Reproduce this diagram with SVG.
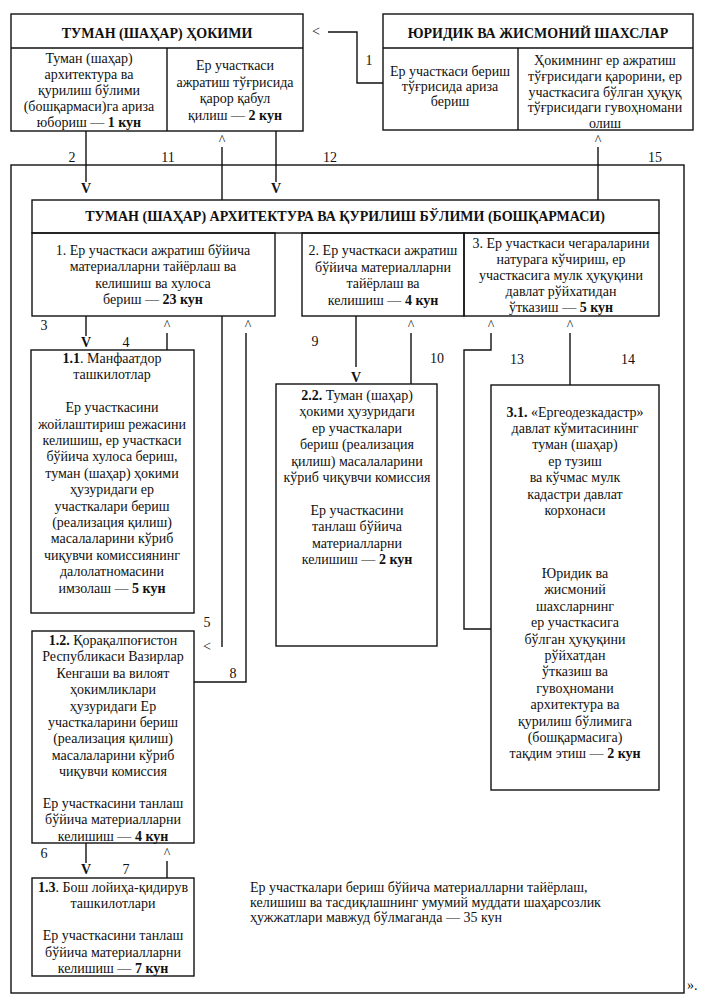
<svg xmlns="http://www.w3.org/2000/svg" width="707" height="1005" viewBox="0 0 707 1005">
<style>
text { font-family: "Liberation Serif", "Times New Roman", serif; font-size: 14px; fill: #111; text-anchor: middle; }
.b { font-weight: bold; }
.l { text-anchor: start; }
.box { fill: none; stroke: #111; stroke-width: 1.4; }
.ln { fill: none; stroke: #111; stroke-width: 1.4; }
</style>
<rect width="707" height="1005" fill="#fff"/>

<!-- outer frame -->
<rect class="box" x="11" y="165" width="673" height="828"/>

<g id="hokim">
<rect class="box" x="11" y="14" width="292" height="117"/>
<path class="ln" d="M11,48 H303 M167,48 V131"/>
<text class="b" x="157" y="38">ТУМАН (ШАҲАР) ҲОКИМИ</text>
<text x="89" y="62.5">Туман (шаҳар)</text>
<text x="89" y="78.6">архитектура ва</text>
<text x="89" y="94.7">қурилиш бўлими</text>
<text x="89" y="110.8">(бошқармаси)га ариза</text>
<text x="89" y="126.9">юбориш — <tspan class="b">1 кун</tspan></text>
<text x="235" y="70">Ер участкаси</text>
<text x="235" y="86.5">ажратиш тўғрисида</text>
<text x="235" y="103">қарор қабул</text>
<text x="235" y="119.5">қилиш — <tspan class="b">2 кун</tspan></text>
</g>

<g id="shaxslar">
<rect class="box" x="383" y="14" width="310" height="116"/>
<path class="ln" d="M383,48 H693 M518,48 V130"/>
<text class="b" x="538" y="38">ЮРИДИК ВА ЖИСМОНИЙ ШАХСЛАР</text>
<text x="450" y="76">Ер участкаси бериш</text>
<text x="450" y="91">тўғрисида ариза</text>
<text x="450" y="106">бериш</text>
<text x="605" y="65">Ҳокимнинг ер ажратиш</text>
<text x="605" y="81">тўғрисидаги қарорини, ер</text>
<text x="605" y="96.5">участкасига бўлган ҳуқуқ</text>
<text x="605" y="112">тўғрисидаги гувоҳномани</text>
<text x="605" y="127.5">олиш</text>
</g>

<g id="bolim">
<rect class="box" x="32" y="200" width="627" height="33"/>
<text class="b" x="345" y="221">ТУМАН (ШАҲАР) АРХИТЕКТУРА ВА ҚУРИЛИШ БЎЛИМИ (БОШҚАРМАСИ)</text>
</g>

<g id="step1">
<rect class="box" x="32" y="233" width="243" height="83"/>
<text x="153" y="255">1. Ер участкаси ажратиш бўйича</text>
<text x="153" y="271">материалларни тайёрлаш ва</text>
<text x="153" y="287.5">келишиш ва хулоса</text>
<text x="153" y="303.5">бериш — <tspan class="b">23 кун</tspan></text>
</g>

<g id="step2">
<rect class="box" x="302" y="233" width="162" height="83"/>
<text x="383" y="255">2. Ер участкаси ажратиш</text>
<text x="383" y="271.5">бўйича материалларни</text>
<text x="383" y="288">тайёрлаш ва</text>
<text x="383" y="304.5">келишиш — <tspan class="b">4 кун</tspan></text>
</g>

<g id="step3">
<rect class="box" x="464" y="233" width="195" height="83"/>
<text x="561" y="248">3. Ер участкаси чегараларини</text>
<text x="561" y="264">натурага кўчириш, ер</text>
<text x="561" y="280">участкасига мулк ҳуқуқини</text>
<text x="561" y="296">давлат рўйхатидан</text>
<text x="561" y="312">ўтказиш — <tspan class="b">5 кун</tspan></text>
</g>

<g id="box11">
<rect class="box" x="31" y="350" width="163" height="263"/>
<text x="112" y="363"><tspan class="b">1.1</tspan>. Манфаатдор</text>
<text x="112" y="379.4">ташкилотлар</text>
<text x="112" y="412.2">Ер участкасини</text>
<text x="112" y="428.6">жойлаштириш режасини</text>
<text x="112" y="445">келишиш, ер участкаси</text>
<text x="112" y="461.4">бўйича хулоса бериш,</text>
<text x="112" y="477.8">туман (шаҳар) ҳокими</text>
<text x="112" y="494.2">ҳузуридаги ер</text>
<text x="112" y="510.6">участкалари бериш</text>
<text x="112" y="527">(реализация қилиш)</text>
<text x="112" y="543.4">масалаларини кўриб</text>
<text x="112" y="559.8">чиқувчи комиссиянинг</text>
<text x="112" y="576.2">далолатномасини</text>
<text x="112" y="592.6">имзолаш — <tspan class="b">5 кун</tspan></text>
</g>

<g id="box22">
<rect class="box" x="276" y="384" width="161" height="262"/>
<text x="357" y="400"><tspan class="b">2.2.</tspan> Туман (шаҳар)</text>
<text x="357" y="416.4">ҳокими ҳузуридаги</text>
<text x="357" y="432.8">ер участкалари</text>
<text x="357" y="449.2">бериш (реализация</text>
<text x="357" y="465.6">қилиш) масалаларини</text>
<text x="357" y="482">кўриб чиқувчи комиссия</text>
<text x="357" y="514.8">Ер участкасини</text>
<text x="357" y="531.2">танлаш бўйича</text>
<text x="357" y="547.6">материалларни</text>
<text x="357" y="564">келишиш — <tspan class="b">2 кун</tspan></text>
</g>

<g id="box31">
<rect class="box" x="491" y="385" width="168" height="405"/>
<text x="575" y="416.5"><tspan class="b">3.1.</tspan> «Ергеодезкадастр»</text>
<text x="575" y="432.9">давлат кўмитасининг</text>
<text x="575" y="449.3">туман (шаҳар)</text>
<text x="575" y="465.7">ер тузиш</text>
<text x="575" y="482.1">ва кўчмас мулк</text>
<text x="575" y="498.5">кадастри давлат</text>
<text x="575" y="514.9">корхонаси</text>
<text x="575" y="578">Юридик ва</text>
<text x="575" y="594.4">жисмоний</text>
<text x="575" y="610.8">шахсларнинг</text>
<text x="575" y="627.2">ер участкасига</text>
<text x="575" y="643.6">бўлган ҳуқуқини</text>
<text x="575" y="660">рўйхатдан</text>
<text x="575" y="676.4">ўтказиш ва</text>
<text x="575" y="692.8">гувоҳномани</text>
<text x="575" y="709.2">архитектура ва</text>
<text x="575" y="725.6">қурилиш бўлимига</text>
<text x="575" y="742">(бошқармасига)</text>
<text x="575" y="758.4">тақдим этиш — <tspan class="b">2 кун</tspan></text>
</g>

<g id="box12">
<rect class="box" x="32" y="631" width="162" height="212"/>
<text x="113" y="645"><tspan class="b">1.2.</tspan> Қорақалпоғистон</text>
<text x="113" y="661.4">Республикаси Вазирлар</text>
<text x="113" y="677.8">Кенгаши ва вилоят</text>
<text x="113" y="694.2">ҳокимликлари</text>
<text x="113" y="710.6">ҳузуридаги Ер</text>
<text x="113" y="727">участкаларини бериш</text>
<text x="113" y="743.4">(реализация қилиш)</text>
<text x="113" y="759.8">масалаларини кўриб</text>
<text x="113" y="776.2">чиқувчи комиссия</text>
<text x="113" y="807.5">Ер участкасини танлаш</text>
<text x="113" y="824">бўйича материалларни</text>
<text x="113" y="840.5">келишиш — <tspan class="b">4 кун</tspan></text>
</g>

<g id="box13">
<rect class="box" x="32" y="878" width="162" height="98"/>
<text x="113" y="892"><tspan class="b">1.3</tspan>. Бош лойиҳа-қидирув</text>
<text x="113" y="908">ташкилотлари</text>
<text x="113" y="940">Ер участкасини танлаш</text>
<text x="113" y="956.5">бўйича материалларни</text>
<text x="113" y="973">келишиш — <tspan class="b">7 кун</tspan></text>
</g>

<g id="note">
<text class="l" x="250" y="892">Ер участкалари бериш бўйича материалларни тайёрлаш,</text>
<text class="l" x="250" y="907">келишиш ва тасдиқлашнинг умумий муддати шаҳарсозлик</text>
<text class="l" x="250" y="922">ҳужжатлари мавжуд бўлмаганда — 35 кун</text>
<text class="l" x="687" y="990">».</text>
</g>

<g id="connectors">
<path class="ln" d="M383,83 H357 V32 H328"/>
<text x="316" y="36">&lt;</text>
<text x="369" y="65">1</text>

<path class="ln" d="M86,131 V182"/>
<text class="b" x="86" y="193">V</text>
<text x="72" y="162">2</text>

<path class="ln" d="M222,147 V200"/>
<text x="222" y="145">^</text>
<text x="168" y="162">11</text>

<path class="ln" d="M276,131 V182"/>
<text class="b" x="276" y="193">V</text>
<text x="330" y="162">12</text>

<path class="ln" d="M598,147 V200"/>
<text x="598" y="145">^</text>
<text x="655" y="162">15</text>

<path class="ln" d="M86,316 V336"/>
<text class="b" x="86" y="347">V</text>
<text x="44" y="330">3</text>

<path class="ln" d="M167,333 V350"/>
<text x="167" y="330">^</text>
<text x="126" y="347">4</text>

<path class="ln" d="M222,316 V647"/>
<text x="207" y="651">&lt;</text>
<text x="207" y="627">5</text>

<path class="ln" d="M194,682 H246 V333"/>
<text x="248" y="330">^</text>
<text x="233" y="678">8</text>

<path class="ln" d="M356,316 V367"/>
<text class="b" x="356" y="382">V</text>
<text x="315" y="346">9</text>

<path class="ln" d="M411,333 V384"/>
<text x="411" y="330">^</text>
<text x="437" y="363">10</text>

<path class="ln" d="M491,333 V350 H464 V629 H491"/>
<text x="491" y="330">^</text>
<text x="517" y="364">13</text>

<path class="ln" d="M570,333 V385"/>
<text x="570" y="330">^</text>
<text x="628" y="364">14</text>

<path class="ln" d="M86,843 V863"/>
<text class="b" x="86" y="874">V</text>
<text x="44" y="858">6</text>

<path class="ln" d="M167,861 V878"/>
<text x="167" y="858">^</text>
<text x="126" y="874">7</text>
</g>
</svg>
